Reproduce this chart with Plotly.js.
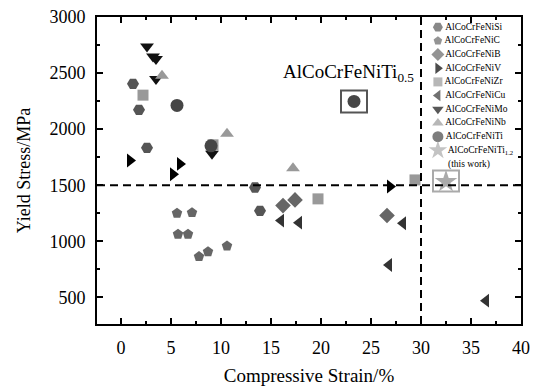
<!DOCTYPE html>
<html>
<head>
<meta charset="utf-8">
<script src="https://cdn.plot.ly/plotly-3.0.1.min.js"></script>
<style>html,body{margin:0;padding:0;background:#fff}#chart{width:540px;height:387px}</style>
</head>
<body>
<div id="chart"></div>
<script>
// ---- data (Compressive Strain %, Yield Stress MPa) ----
const siX = [1.2, 1.8, 2.6, 13.4, 13.9];
const siY = [2404, 2172, 1833, 1479, 1271];
const cX = [5.6, 7.1, 5.7, 6.7, 7.8, 8.7, 10.6];
const cY = [1250, 1255, 1063, 1063, 863, 907, 958];
const bX = [16.2, 17.4, 26.6];
const bY = [1318, 1369, 1229];
const vX = [0.9, 5.9, 5.2, 26.9];
const vY = [1720, 1690, 1598, 1488];
const zrX = [2.2, 9.2, 19.7, 29.4];
const zrY = [2303, 1860, 1378, 1547];
const cuX = [16.0, 17.8, 28.2, 26.8, 36.5];
const cuY = [1184, 1166, 1161, 788, 470];
const moX = [2.6, 3.2, 3.5, 3.5, 9.1];
const moY = [2738, 2648, 2625, 2446, 1780];
const nbX = [4.1, 10.6, 17.2];
const nbY = [2476, 1958, 1652];
const tiX = [5.6, 9.0, 23.3];
const tiY = [2211, 1851, 2247];
const thisWorkX = [32.5];
const thisWorkY = [1532];

const seriesNames = ["AlCoCrFeNiSi", "AlCoCrFeNiC", "AlCoCrFeNiB", "AlCoCrFeNiV", "AlCoCrFeNiZr",
  "AlCoCrFeNiCu", "AlCoCrFeNiMo", "AlCoCrFeNiNb", "AlCoCrFeNiTi", "AlCoCrFeNiTi<sub>1.2</sub>"];
const highlightLabel = "AlCoCrFeNiTi<sub>0.5</sub>";
const thisWorkNote = "(this work)";
const xTicks = [0, 5, 10, 15, 20, 25, 30, 35, 40];
const yTicks = [500, 1000, 1500, 2000, 2500, 3000];
const strainThreshold = 30;
const stressThreshold = 1500;

// ---- styles ----
const styles = [
  {sym: "hexagon2", col: "#555555", size: 12},
  {sym: "pentagon", col: "#666666", size: 11},
  {sym: "diamond", col: "#666666", size: 12},
  {sym: "triangle-right", col: "#000000", size: 12},
  {sym: "square", col: "#999999", size: 11},
  {sym: "triangle-left", col: "#333333", size: 12},
  {sym: "triangle-down", col: "#111111", size: 12},
  {sym: "triangle-up", col: "#999999", size: 12},
  {sym: "circle", col: "#464646", size: 13},
  {sym: "star", col: "#aaaaaa", size: 17}
];
const xs = [siX, cX, bX, vX, zrX, cuX, moX, nbX, tiX, thisWorkX];
const ys = [siY, cY, bY, vY, zrY, cuY, moY, nbY, tiY, thisWorkY];

const serif = "Liberation Serif, Times New Roman, serif";
const traces = xs.map((x, i) => ({
  type: "scatter", mode: "markers", x: x, y: ys[i], name: seriesNames[i],
  marker: {symbol: styles[i].sym, color: styles[i].col, size: styles[i].size, line: {width: 0}},
  showlegend: false, hoverinfo: "x+y+name"
}));

// custom compact legend drawn on overlay axes
const legTop = 0.967, legStep = 0.0446, legX = 0.804;
traces.push({
  type: "scatter", mode: "markers+text", xaxis: "x2", yaxis: "y2",
  x: seriesNames.map(() => legX),
  y: seriesNames.map((_, i) => legTop - i * legStep),
  text: seriesNames,
  textposition: "middle right",
  textfont: {family: serif, size: 9.5, color: "#000"},
  marker: {symbol: styles.map(s => s.sym), color: styles.map(s => s.col),
           size: styles.map(s => Math.round(s.size * 0.85)), line: {width: 0}},
  showlegend: false, hoverinfo: "skip", cliponaxis: false
});

const axisCommon = {
  showline: true, linecolor: "#000", linewidth: 2, mirror: "ticks",
  ticks: "inside", ticklen: 6, tickwidth: 2, tickcolor: "#000",
  showgrid: false, zeroline: false,
  tickfont: {family: serif, size: 18, color: "#000"},
  ticklabelstandoff: 6,
  minor: {ticks: "inside", ticklen: 3, tickwidth: 2, tickcolor: "#000", showgrid: false}
};

const layout = {
  width: 540, height: 387,
  margin: {l: 97, r: 19, t: 17, b: 63},
  paper_bgcolor: "#fff", plot_bgcolor: "#fff",
  showlegend: false,
  xaxis: Object.assign({}, axisCommon, {
    range: [-2.4, 40], tickvals: xTicks, minor: Object.assign({}, axisCommon.minor, {dtick: 2.5, tick0: 0}),
    title: {text: "Compressive Strain/%", font: {family: serif, size: 19, color: "#000"}, standoff: 12}
  }),
  yaxis: Object.assign({}, axisCommon, {
    range: [262, 3000], tickvals: yTicks, minor: Object.assign({}, axisCommon.minor, {dtick: 250, tick0: 0}),
    title: {text: "Yield Stress/MPa", font: {family: serif, size: 18, color: "#000"}, standoff: 14}
  }),
  xaxis2: {overlaying: "x", range: [0, 1], visible: false, fixedrange: true},
  yaxis2: {overlaying: "y", range: [0, 1], visible: false, fixedrange: true},
  shapes: [
    {type: "line", xref: "x", yref: "y", x0: -2.4, x1: 40, y0: stressThreshold, y1: stressThreshold,
     line: {color: "#000", width: 2, dash: "8px,5px"}},
    {type: "line", xref: "x", yref: "y", x0: strainThreshold, x1: strainThreshold, y0: 262, y1: 3000,
     line: {color: "#000", width: 2, dash: "8px,5px"}},
    {type: "rect", xref: "x", yref: "y", xsizemode: "pixel", ysizemode: "pixel",
     xanchor: tiX[2], yanchor: tiY[2], x0: -13, x1: 13, y0: -11, y1: 11,
     line: {color: "#555", width: 2}},
    {type: "rect", xref: "x", yref: "y", xsizemode: "pixel", ysizemode: "pixel",
     xanchor: thisWorkX[0], yanchor: thisWorkY[0], x0: -13, x1: 13, y0: -10, y1: 11,
     line: {color: "#aaa", width: 2}}
  ],
  annotations: [
    {xref: "x", yref: "y", x: tiX[2], y: tiY[2], text: highlightLabel, showarrow: false,
     xanchor: "center", yanchor: "bottom", xshift: -6, yshift: 14,
     font: {family: serif, size: 19, color: "#000"}},
    {xref: "x2", yref: "y2", x: legX, y: legTop - seriesNames.length * legStep, text: thisWorkNote,
     showarrow: false, xanchor: "left", yanchor: "middle", xshift: 8,
     font: {family: serif, size: 9.5, color: "#000"}}
  ]
};

Plotly.newPlot("chart", traces, layout, {displayModeBar: false, staticPlot: true});
</script>
</body>
</html>
